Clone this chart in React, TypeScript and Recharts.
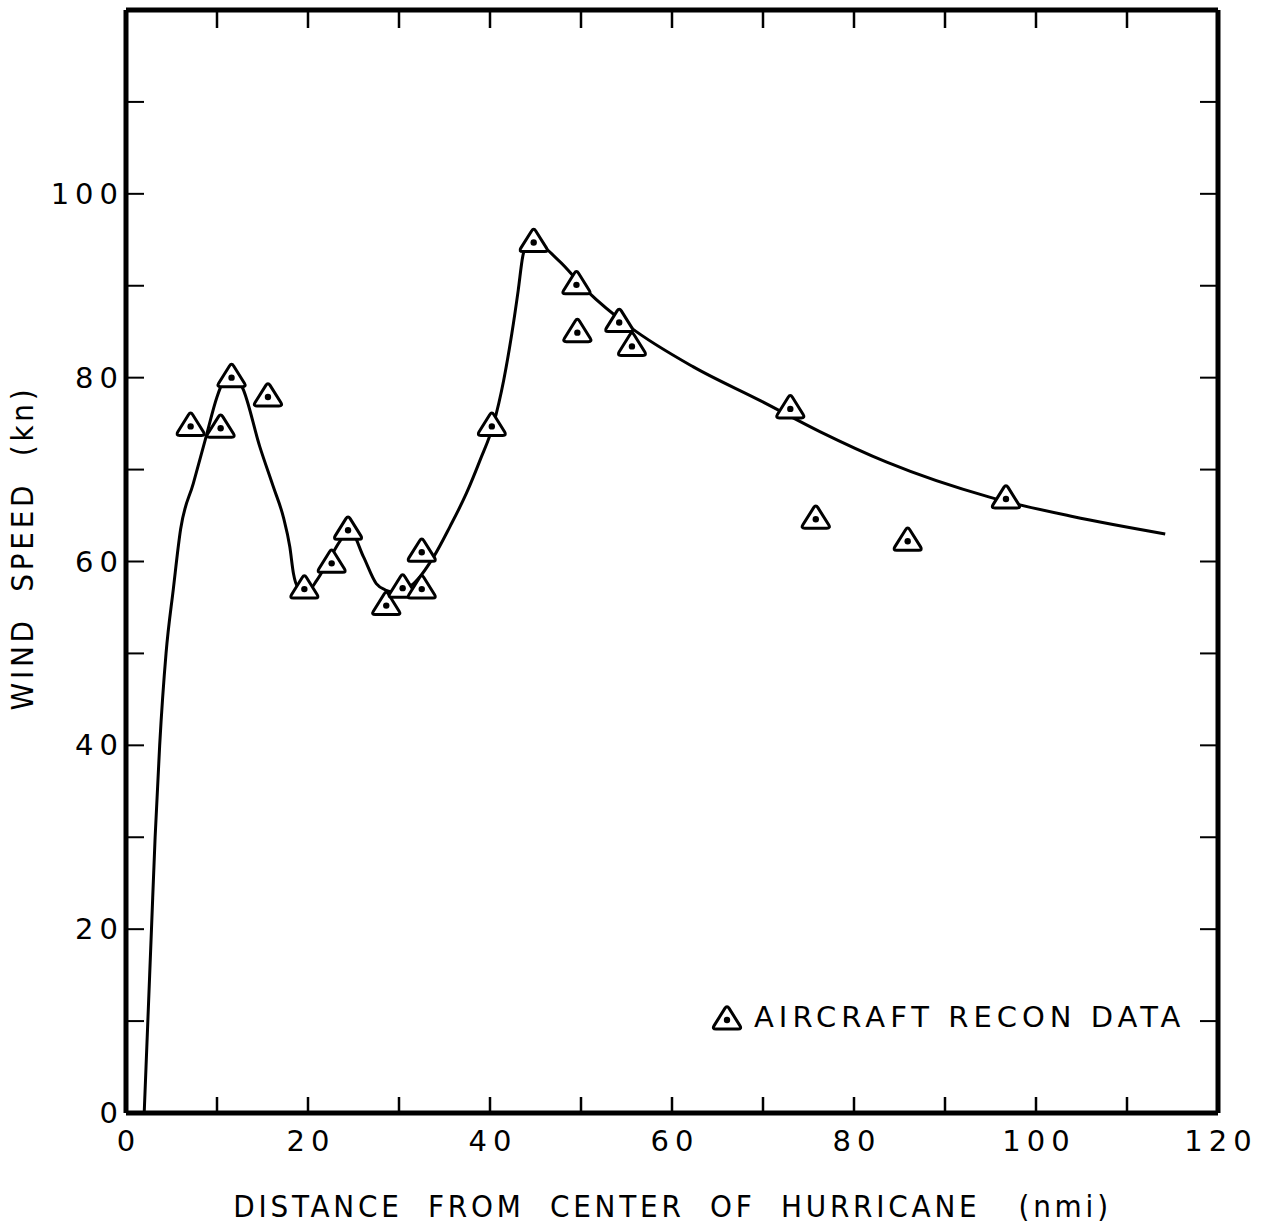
import React from 'react';
import {ComposedChart,Line,Scatter,XAxis,YAxis,ReferenceLine} from 'recharts';

// fitted wind profile (nmi, kn)
const curveX=[2.0,2.4,2.8,3.2,3.7,4.4,5.2,6.0,7.4,8.7,10.0,10.5,11.6,12.8,14.7,16.2,17.3,18.0,18.4,18.9,19.9,21.0,22.1,23.5,24.6,26.1,27.5,28.5,29.4,31.6,33.8,35.6,37.4,38.9,40.4,41.5,42.4,43.1,43.6,44.0,44.7,47.5,50.6,55.4,62.3,69.7,76.3,83.6,94.9,104,114.2];
const curveY=[0,10,20,30,40,50,57,63.5,68.5,73.2,77.9,79.2,80.3,78.9,72.5,68.1,64.8,61.6,58.7,57.2,56.7,58.0,59.8,62.2,63.4,60.5,57.6,56.9,56.7,57.6,60.5,63.8,67.4,71.0,75.0,79.7,84.8,89.5,93.2,94.4,94.8,92.8,89.5,85.5,81.2,77.5,74.1,70.8,67.0,64.9,63.0];
// aircraft recon observations
const reconX=[7.1,10.4,11.6,15.6,19.6,22.6,24.4,28.6,30.4,32.5,32.5,40.2,44.8,49.5,49.6,54.2,55.6,73.0,75.8,85.9,96.7];
const reconY=[74.7,74.5,80,77.9,57,59.8,63.4,55.2,57.1,61,57,74.7,94.7,90.1,84.9,86.0,83.4,76.6,64.6,62.2,66.8];
const xTicks=[0,10,20,30,40,50,60,70,80,90,100,110,120];
const yTicks=[0,10,20,30,40,50,60,70,80,90,100,110,120];

const W=1261,H=1228;
const L=126,T=10,R=1218,B=1113;
const font="'DejaVu Sans', sans-serif";

const curve=curveX.map((x,i)=>({x,y:curveY[i]}));
const recon=reconX.map((x,i)=>({x,y:reconY[i]}));

const triPath=(cx:number,cy:number,s=1)=>{
  const v=[[cx,cy-15*s],[cx+15*s,cy+9*s],[cx-15*s,cy+9*s]];
  const r=4*s;
  let d='';
  for(let i=0;i<3;i++){
    const p=v[i],a=v[(i+2)%3],b=v[(i+1)%3];
    const la=Math.hypot(a[0]-p[0],a[1]-p[1]),lb=Math.hypot(b[0]-p[0],b[1]-p[1]);
    const p1=[p[0]+(a[0]-p[0])*r/la,p[1]+(a[1]-p[1])*r/la];
    const p2=[p[0]+(b[0]-p[0])*r/lb,p[1]+(b[1]-p[1])*r/lb];
    d+=(i===0?'M':'L')+p1[0]+','+p1[1]+' Q'+p[0]+','+p[1]+' '+p2[0]+','+p2[1]+' ';
  }
  return d+'Z';
};

const Tri=(p:any)=>{
  const{cx,cy}=p;
  if(cx==null||cy==null)return <g/>;
  return <g><path d={triPath(cx,cy)} fill="#fff" stroke="#000" strokeWidth={3}/><circle cx={cx} cy={cy} r={3.2} fill="#000"/></g>;
};

const XTick=(p:any)=>{
  const{x,payload}=p;const v=payload.value;const edge=v===0||v===120;
  return <g>
    {!edge&&<line x1={x} x2={x} y1={B} y2={B-16} stroke="#000" strokeWidth={2.5}/>}
    {!edge&&<line x1={x} x2={x} y1={T} y2={T+18} stroke="#000" strokeWidth={2.5}/>}
    {v%20===0&&<text x={x} y={B+38} dx={3} textAnchor="middle" fontFamily={font} fontSize={29} letterSpacing={6} fill="#000">{v}</text>}
  </g>;
};

const YTick=(p:any)=>{
  const{y,payload}=p;const v=payload.value;const edge=v===0||v===120;
  return <g>
    {!edge&&<line x1={L} x2={L+18} y1={y} y2={y} stroke="#000" strokeWidth={2}/>}
    {!edge&&<line x1={R} x2={R-18} y1={y} y2={y} stroke="#000" strokeWidth={2}/>}
    {v%20===0&&v<120&&<text x={L-2} y={y+10} textAnchor="end" fontFamily={font} fontSize={29} letterSpacing={6} fill="#000">{v}</text>}
  </g>;
};

const App:React.FC=()=>{
  return(
    <div style={{position:'absolute',left:0,top:0,width:W,height:H,background:'#fff'}}>
      <ComposedChart width={W} height={H} margin={{top:T,left:L-60,right:W-R,bottom:H-B-30}}>
        <XAxis dataKey="x" type="number" domain={[0,120]} ticks={xTicks} tick={<XTick/>} tickLine={false} tickSize={0} height={30} axisLine={{stroke:'#000',strokeWidth:5}} allowDataOverflow/>
        <YAxis dataKey="y" type="number" domain={[0,120]} ticks={yTicks} tick={<YTick/>} tickLine={false} tickSize={0} width={60} axisLine={{stroke:'#000',strokeWidth:5}} allowDataOverflow/>
        <ReferenceLine y={120} stroke="#000" strokeWidth={5}/>
        <ReferenceLine x={120} stroke="#000" strokeWidth={5}/>
        <Line data={curve} dataKey="y" type="monotone" stroke="#000" strokeWidth={3} dot={false} activeDot={false} isAnimationActive={false}/>
        <Scatter data={recon} dataKey="y" shape={<Tri/>} isAnimationActive={false}/>
      </ComposedChart>
      <div style={{position:'absolute',left:0,top:1188,width:W,paddingLeft:84,boxSizing:'border-box',textAlign:'center',fontFamily:font,fontSize:31,letterSpacing:3.8,fontStretch:'condensed',whiteSpace:'pre'}}>DISTANCE  FROM  CENTER  OF  HURRICANE   (nmi)</div>
      <div style={{position:'absolute',left:22,top:548,transform:'translate(-50%,-50%) rotate(-90deg)',fontFamily:font,fontSize:31,letterSpacing:3.8,fontStretch:'condensed',whiteSpace:'pre'}}>WIND  SPEED  (kn)</div>
      <div style={{position:'absolute',left:710,top:1000,display:'flex',alignItems:'center',fontFamily:font,fontSize:29,letterSpacing:5,whiteSpace:'pre'}}>
        <svg width={34} height={34}><path d={triPath(17,20)} fill="#fff" stroke="#000" strokeWidth={3}/><circle cx={17} cy={20} r={3.2} fill="#000"/></svg>
        <span style={{marginLeft:10}}>AIRCRAFT RECON DATA</span>
      </div>
    </div>
  );
};
export default App;
